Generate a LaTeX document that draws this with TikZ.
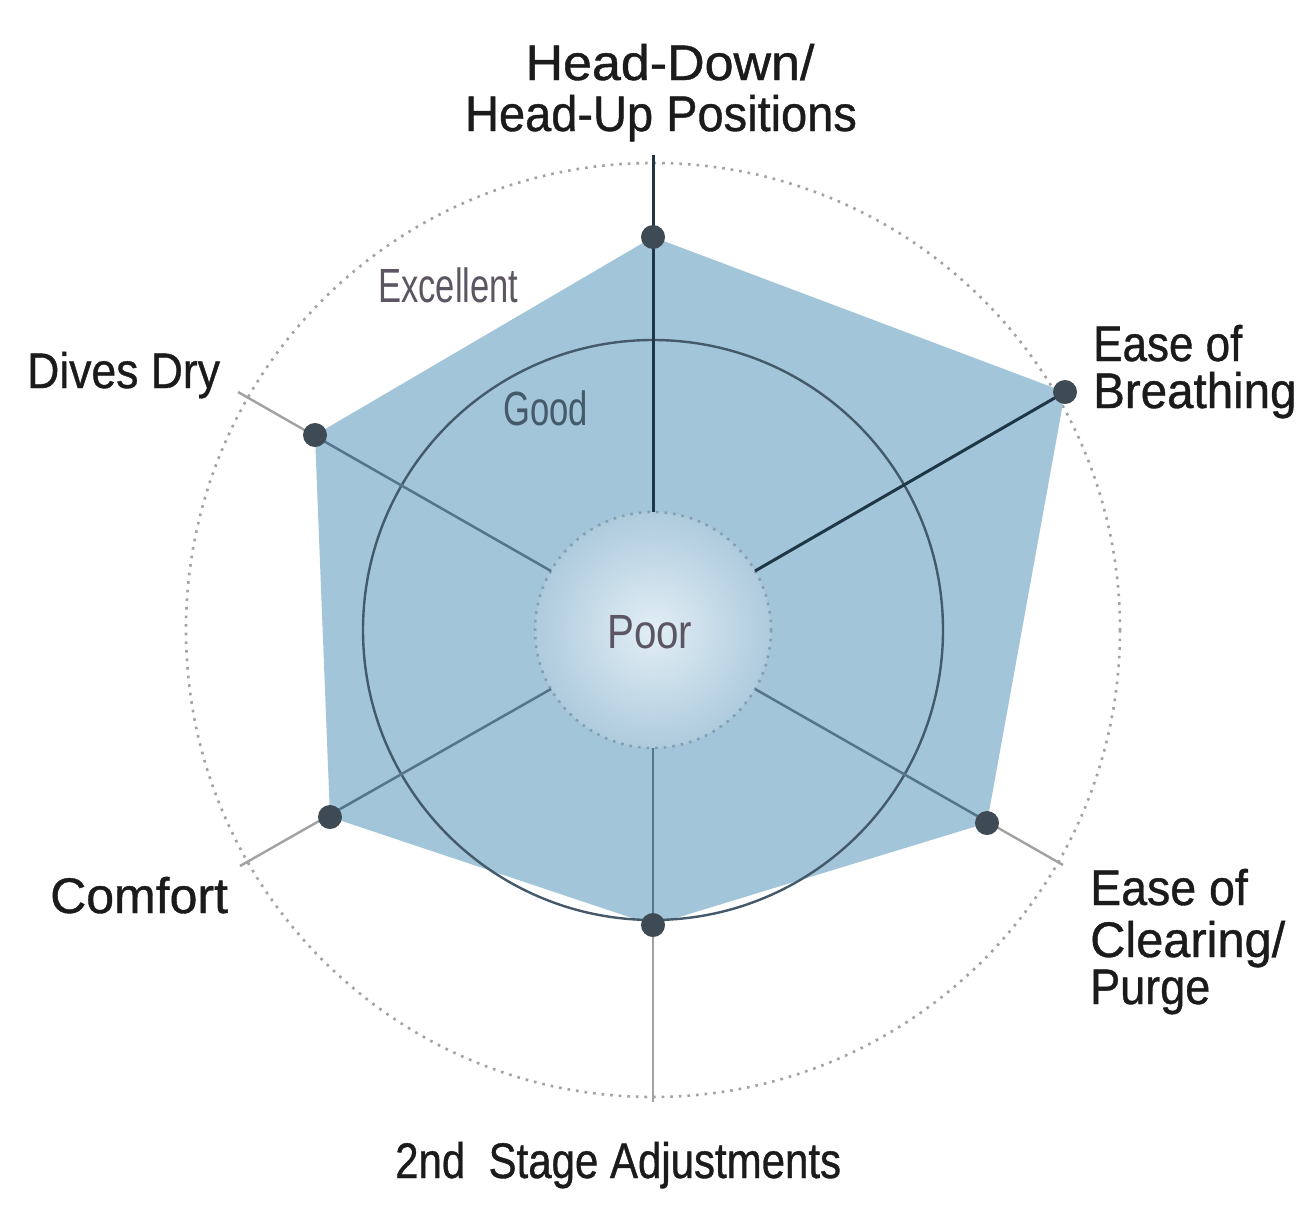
\documentclass[tikz,border=0pt]{standalone}
\usepackage{fontspec}
\setmainfont{Liberation Sans}
\newfontfamily\labfont{Liberation Sans}[FakeBold=0.8]
\definecolor{polyfill}{HTML}{A3C5DA}
\definecolor{diskin}{HTML}{E2EEF5}
\definecolor{diskout}{HTML}{AECBDD}
\definecolor{darkaxis}{HTML}{1F3646}
\definecolor{inaxis}{HTML}{52768E}
\definecolor{grayaxis}{HTML}{A2A2A2}
\definecolor{midring}{HTML}{44596A}
\definecolor{dotcol}{HTML}{3E4A54}
\definecolor{labtext}{HTML}{1B1B1B}
\definecolor{subtext}{HTML}{5C5562}
\newcommand{\sx}[2]{\scalebox{#1}[1]{#2}}
\begin{document}
\begin{tikzpicture}[x=1pt,y=-1pt,
  lab/.style={inner sep=0pt, anchor=base west, font=\labfont\fontsize{50}{50}\selectfont, text=labtext},
  labc/.style={lab, anchor=base},
  sublab/.style={inner sep=0pt, anchor=base west, font=\fontsize{48}{48}\selectfont, text=subtext},
  outring/.style={draw=grayaxis, line width=2.6pt, dash pattern=on 2.6pt off 6pt},
  inring/.style={draw=inaxis!70!white, line width=2.6pt, dash pattern=on 2.6pt off 6pt},
  grayline/.style={draw=grayaxis, line width=2.4pt},
  inline/.style={draw=inaxis, line width=2.4pt},
  darkline/.style={draw=darkaxis, line width=3pt},
  ptdot/.style={fill=dotcol}]
\useasboundingbox (0,0) rectangle (1310,1216);
\fill[white] (0,0) rectangle (1310,1216);

\coordinate (C) at (653,630);
% data points
\coordinate (pT) at (653,237);
\coordinate (pBr) at (1065,392);
\coordinate (pCl) at (987,823);
\coordinate (pB) at (653,925);
\coordinate (pCo) at (330,817);
\coordinate (pDD) at (315,435);
% axis starts on inner ring
\coordinate (sT) at (653,512);
\coordinate (sBr) at (755,571);
\coordinate (sCl) at (755,689);
\coordinate (sB) at (653,748);
\coordinate (sCo) at (551,689);
\coordinate (sDD) at (551,571);
% axis ends
\coordinate (eT) at (653,155);
\coordinate (eCl) at (1063,865);
\coordinate (eB) at (653,1102);
\coordinate (eCo) at (240,866);
\coordinate (eDD) at (238,392);

% outer dotted ring
\draw[outring] (C) circle (467);

% polygon
\fill[polyfill] (pT) -- (pBr) -- (pCl) -- (pB) -- (pCo) -- (pDD) -- cycle;

% inner disk
\shade[inner color=diskin, outer color=diskout] (C) circle (118);
\draw[inring] (C) circle (118);

% middle ring
\draw[midring, line width=2.4pt] (C) circle (290);

% light axes
\draw[grayline] (sCl) -- (eCl);
\draw[grayline] (sB) -- (eB);
\draw[grayline] (sCo) -- (eCo);
\draw[grayline] (sDD) -- (eDD);
\begin{scope}
  \clip (pT) -- (pBr) -- (pCl) -- (pB) -- (pCo) -- (pDD) -- cycle;
  \draw[inline] (sCl) -- (eCl);
  \draw[inline] (sB) -- (eB);
  \draw[inline] (sCo) -- (eCo);
  \draw[inline] (sDD) -- (eDD);
\end{scope}
% dark axes
\draw[darkline] (sT) -- (eT);
\draw[darkline] (sBr) -- (pBr);

% data dots
\foreach \p in {pT,pBr,pCl,pB,pCo,pDD} \fill[ptdot] (\p) circle (12);

% scale labels
\node[sublab] (exc) at (378,302) {\sx{0.72}{Excellent}};
\node[sublab, text=midring] (good) at (503,425) {\sx{0.72}{Good}};
\node[sublab, text=subtext] (poor) at (607,648) {\sx{0.84}{Poor}};

% axis labels
\node[labc] (hd1) at (670,80) {\sx{1.04}{Head-Down/}};
\node[labc] (hd2) at (661,131) {\sx{0.94}{Head-Up Positions}};
\node[lab] (br1) at (1093,361) {\sx{0.88}{Ease of}};
\node[lab] (br2) at (1093,408) {\sx{0.95}{Breathing}};
\node[lab] (cl1) at (1090,905) {\sx{0.93}{Ease of}};
\node[lab] (cl2) at (1090,957) {\sx{0.975}{Clearing/}};
\node[lab] (cl3) at (1090,1004) {\sx{0.9}{Purge}};
\node[lab] (dd) at (27,388) {\sx{0.89}{Dives Dry}};
\node[lab] (co) at (50,913) {\sx{1.0}{Comfort}};
\node[lab] (st) at (395,1178) {\sx{0.84}{2nd\ \ Stage Adjustments}};
\end{tikzpicture}
\end{document}
